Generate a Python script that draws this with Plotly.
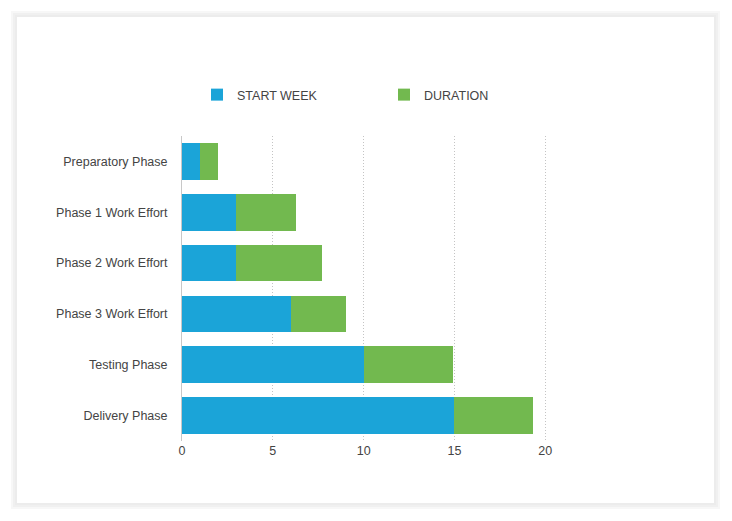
import plotly.graph_objects as go

# data
phases = ["Preparatory Phase", "Phase 1 Work Effort", "Phase 2 Work Effort",
          "Phase 3 Work Effort", "Testing Phase", "Delivery Phase"]
start_week = [1, 3, 3, 6, 10, 15]
duration = [1, 3.3, 4.7, 3.05, 4.9, 4.3]
x_ticks = [0, 5, 10, 15, 20]

blue = "#1ba4d8"
green = "#72b94f"
font_family = "Liberation Sans, Arial, sans-serif"

W, H = 732, 521
# plot area in page pixels (page is drawn with an 8px body offset)
off = 8
x_max = 20.15
left, right, top, bottom = 182 - off, 548 - off, 136 - off, 441 - off
pw, ph = right - left, bottom - top


def px(x):
    return (x - off - left) / pw


def py(y):
    return (bottom - (y - off)) / ph


fig = go.Figure()
fig.add_trace(go.Bar(y=phases, x=start_week, name="START WEEK", orientation="h",
                     marker=dict(color=blue, line=dict(width=0)), legend="legend"))
fig.add_trace(go.Bar(y=phases, x=duration, name="DURATION", orientation="h",
                     marker=dict(color=green, line=dict(width=0)), legend="legend2"))

# card with soft shadow
shapes = []
for pad, col in [(6, "#f7f7f7"), (4, "#f0f0f0"), (2, "#ececec")]:
    shapes.append(dict(type="rect", xref="paper", yref="paper", layer="below",
                       x0=px(17 - pad), x1=px(714 + pad),
                       y0=py(503 + pad), y1=py(17 - pad),
                       fillcolor=col, line=dict(width=0)))
shapes.append(dict(type="rect", xref="paper", yref="paper", layer="below",
                   x0=px(17), x1=px(714), y0=py(503), y1=py(17),
                   fillcolor="white", line=dict(width=0)))

legend_style = dict(orientation="h", xref="container", yref="container",
                    xanchor="left", y=1 - (95 - off) / H, yanchor="middle",
                    font=dict(size=12.5, color="#444"), bgcolor="rgba(0,0,0,0)")

fig.update_layout(
    barmode="stack",
    bargap=0.28,
    width=W, height=H,
    margin=dict(l=left, r=W - right, t=top, b=H - bottom),
    paper_bgcolor="white",
    plot_bgcolor="rgba(0,0,0,0)",
    font=dict(family=font_family, size=12.5, color="#444"),
    shapes=shapes,
    showlegend=True,
    legend=dict(legend_style, x=(211 - off - 14) / W),
    legend2=dict(legend_style, x=(398 - off - 14) / W),
    xaxis=dict(range=[0, x_max], tickvals=x_ticks,
               showgrid=True, gridcolor="#c4c4c4", griddash="1px,2px", gridwidth=1,
               zeroline=False, showline=False, ticks="",
               tickfont=dict(size=12.5, color="#444")),
    yaxis=dict(categoryorder="array", categoryarray=phases[::-1],
               showgrid=False, zeroline=False, showline=True, linecolor="#c8c8c8",
               linewidth=1, ticks="", ticklabelstandoff=11,
               tickfont=dict(size=12.5, color="#444")),
)

fig.write_html("out.html")
